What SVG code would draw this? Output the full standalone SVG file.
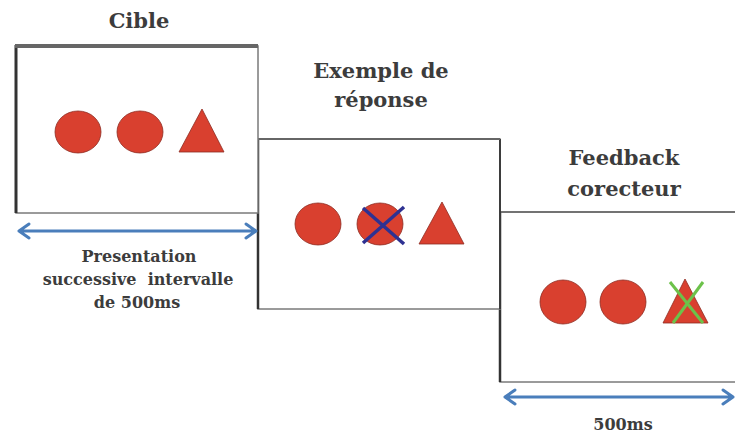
<svg xmlns="http://www.w3.org/2000/svg" width="735" height="434" viewBox="0 0 735 434">
<defs>
<style>
.t{font-family:"DejaVu Serif","Liberation Serif",serif;font-weight:bold;fill:#3c3c3c;text-anchor:middle}
.h{font-size:21px}
.s{font-size:16px}
.box{fill:#fff;stroke:#7a7a7a;stroke-width:1.5}
.edge{stroke:#333;stroke-width:2.5;fill:none}
.top{stroke:#666;stroke-width:2.5;fill:none}
.shape{fill:#d9402f;stroke:#8e2c22;stroke-width:0.8}
.arr{stroke:#4a7ebb;stroke-width:3;fill:none;stroke-linecap:round;stroke-linejoin:round}
</style>
</defs>
<rect width="735" height="434" fill="#fff"/>

<g id="box3">
<rect class="box" x="500" y="212" width="240" height="170"/>
<line class="edge" x1="500" y1="212" x2="500" y2="382"/>
<line class="top" x1="500" y1="212" x2="735" y2="212" style="stroke-width:1.5"/>
<ellipse class="shape" cx="563" cy="302" rx="23" ry="22"/>
<ellipse class="shape" cx="623" cy="302" rx="23" ry="22"/>
<polygon class="shape" points="685,279 708,323 663,323"/>
<line x1="670" y1="282" x2="703" y2="323" stroke="#6cc24a" stroke-width="3"/>
<line x1="703" y1="282" x2="673" y2="323" stroke="#6cc24a" stroke-width="3"/>
</g>

<g id="box2">
<rect class="box" x="258" y="139" width="242" height="170"/>
<line class="edge" x1="258" y1="139" x2="258" y2="309"/>
<line class="edge" x1="500" y1="139" x2="500" y2="309" style="stroke-width:1.8"/>
<line class="top" x1="258" y1="139" x2="500" y2="139" style="stroke-width:2"/>
<ellipse class="shape" cx="318" cy="224" rx="23" ry="21"/>
<ellipse class="shape" cx="380" cy="224" rx="23" ry="21"/>
<polygon class="shape" points="442,202 464,244 419,244"/>
<line x1="363" y1="243" x2="404" y2="207" stroke="#2e3192" stroke-width="3.5"/>
<line x1="363" y1="208" x2="404" y2="244" stroke="#2e3192" stroke-width="3.5"/>
</g>

<g id="box1">
<rect class="box" x="16" y="46" width="242" height="167"/>
<line class="edge" x1="16" y1="45" x2="16" y2="213" style="stroke-width:3"/>
<line class="top" x1="15" y1="46" x2="258" y2="46" style="stroke-width:4"/>
<ellipse class="shape" cx="78" cy="132" rx="23" ry="21"/>
<ellipse class="shape" cx="140" cy="132" rx="23" ry="21"/>
<polygon class="shape" points="202,109 224,152 179,152"/>
</g>

<g id="labels">
<text class="t h" x="139" y="28">Cible</text>
<text class="t h" x="381" y="78">Exemple de</text>
<text class="t h" x="381" y="107">réponse</text>
<text class="t h" x="624" y="165">Feedback</text>
<text class="t h" x="624" y="196">corecteur</text>
<text class="t s" x="139" y="262">Presentation</text>
<text class="t s" x="138" y="285" xml:space="preserve">successive  intervalle</text>
<text class="t s" x="137" y="308">de 500ms</text>
<text class="t s" x="623" y="430">500ms</text>
</g>

<g id="connectors">
<path class="arr" d="M19,231 H256 M29,224 L19,231 L29,238 M246,224 L256,231 L246,238"/>
<path class="arr" d="M505,397 H733 M515,390 L505,397 L515,404 M723,390 L733,397 L723,404"/>
</g>
</svg>
